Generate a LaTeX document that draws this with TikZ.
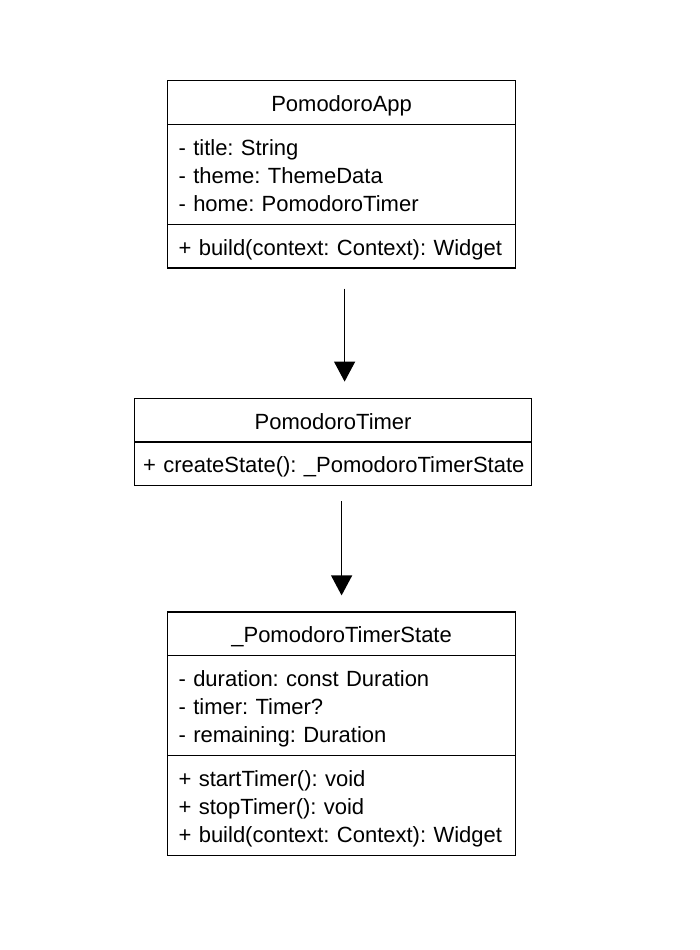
\documentclass[tikz,border=0pt]{standalone}
\usepackage{fontspec}
\setmainfont{Liberation Sans}
\usetikzlibrary{
  arrows.meta,
  shapes.multipart,
  positioning
}
\frenchspacing
\newcommand{\umlstrut}{\rule[-5pt]{0pt}{28pt}}
\newcommand{\umlrow}[1]{\mbox{\umlstrut#1}}
\newcommand{\umltitle}[1]{\hbox to\hsize{\hss\umlstrut#1\hss}}
\tikzset{
  umlclass/.style={
    draw, line width=1.2pt, rectangle split, rectangle split parts=3,
    inner xsep=11pt, inner ysep=7.3pt, text width=326pt, align=left,
    font=\fontsize{22pt}{28pt}\selectfont
  },
  umlsmall/.style={umlclass, rectangle split parts=2, inner xsep=8.5pt, text width=380pt},
  umlarrow/.style={-{Triangle[length=20pt, width=21pt]}, line width=1.2pt}
}
\begin{document}
\begin{tikzpicture}[node distance=125pt]
  \useasboundingbox (0,0) rectangle (700pt,-950pt);
  \node[umlclass, anchor=north west] (app) at (167pt,-80pt)
    {\umltitle{PomodoroApp}
     \nodepart{second}\umlrow{- title: String}\\\umlrow{- theme: ThemeData}\\\umlrow{- home: PomodoroTimer}
     \nodepart{third}\umlrow{+ build(context: Context): Widget}};
  \node[umlsmall, below=129pt of app, xshift=-8.5pt] (timer)
    {\umltitle{PomodoroTimer}
     \nodepart{second}\umlrow{+ createState(): \_PomodoroTimerState}};
  \node[umlclass, below=of timer, xshift=8.5pt] (state)
    {\umltitle{\_PomodoroTimerState}
     \nodepart{second}\umlrow{- duration: const Duration}\\\umlrow{- timer: Timer?}\\\umlrow{- remaining: Duration}
     \nodepart{third}\umlrow{+ startTimer(): void}\\\umlrow{+ stopTimer(): void}\\\umlrow{+ build(context: Context): Widget}};
  \draw[umlarrow, shorten <=20pt, shorten >=16pt] ([xshift=3pt]app.south) -- ([xshift=3pt]app.south |- timer.north);
  \draw[umlarrow, shorten <=15pt, shorten >=16pt] (state.north |- timer.south) -- (state.north);
\end{tikzpicture}
\end{document}
